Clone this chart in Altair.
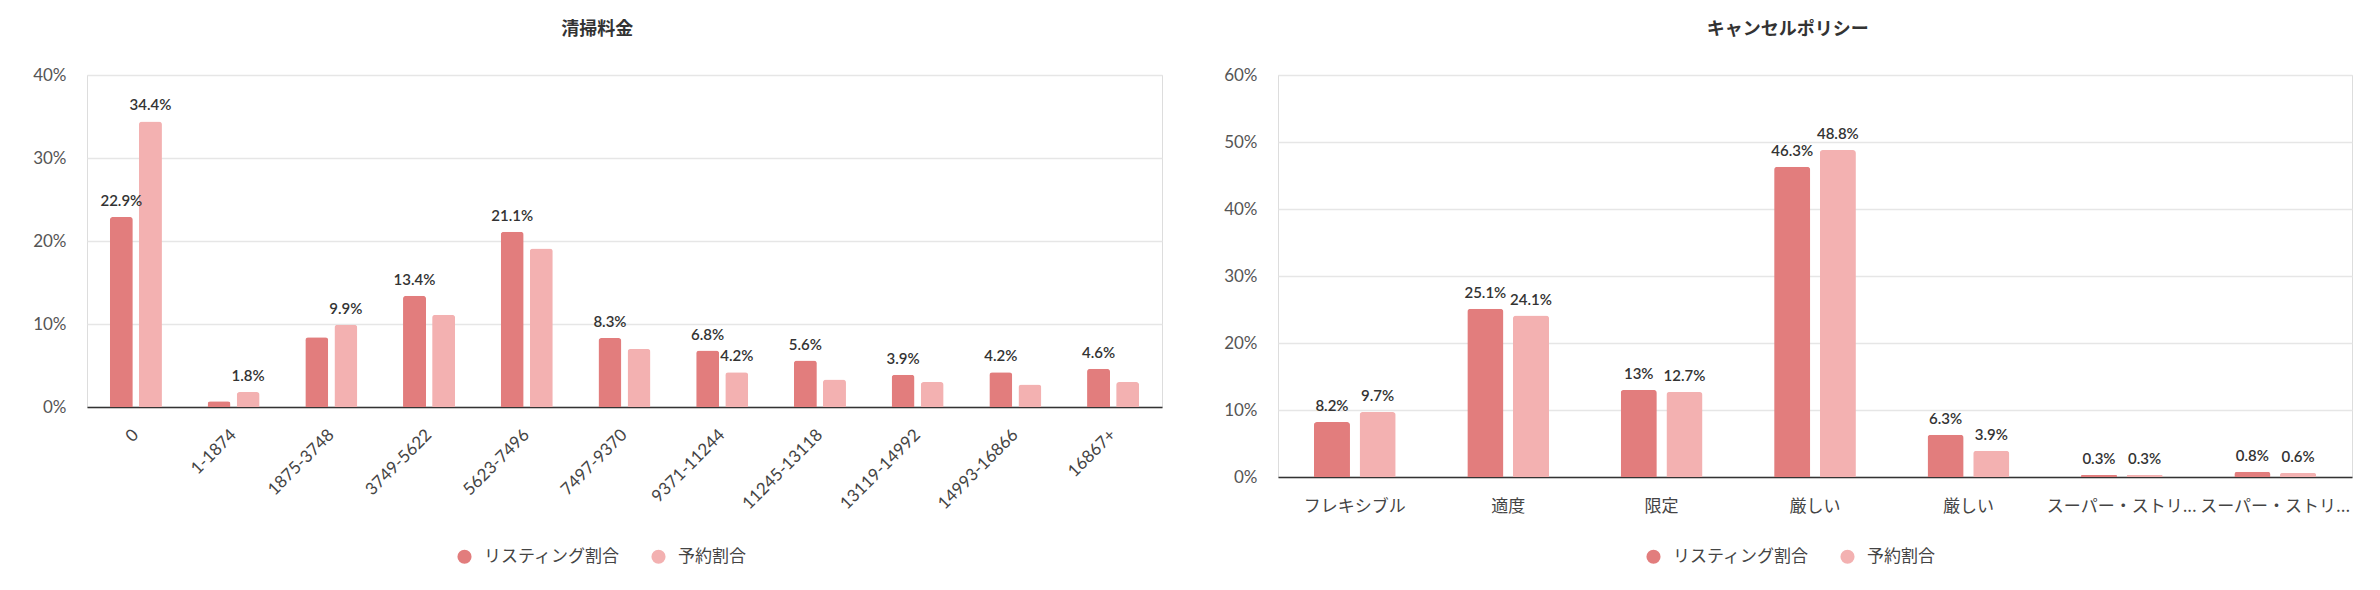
import json
import altair as alt
import pandas as pd

# ---- data ----
series_names = ["リスティング割合", "予約割合"]
series_colors = ["#E27D7D", "#F3B1B1"]

clean_title = "清掃料金"
clean_categories = ["0", "1-1874", "1875-3748", "3749-5622", "5623-7496", "7497-9370",
                    "9371-11244", "11245-13118", "13119-14992", "14993-16866", "16867+"]
clean_listing = [22.9, 0.7, 8.4, 13.4, 21.1, 8.3, 6.8, 5.6, 3.9, 4.2, 4.6]
clean_booking = [34.4, 1.8, 9.9, 11.1, 19.1, 7.0, 4.2, 3.3, 3.0, 2.7, 3.0]
clean_listing_shown = [True, False, False, True, True, True, True, True, True, True, True]
clean_booking_shown = [True, True, True, False, False, False, True, False, False, False, False]
clean_ticks = [0, 10, 20, 30, 40]

policy_title = "キャンセルポリシー"
policy_categories = ["フレキシブル", "適度", "限定", "厳しい", "厳しい",
                     "スーパー・ストリ...", "スーパー・ストリ..."]
policy_listing = [8.2, 25.1, 13.0, 46.3, 6.3, 0.3, 0.8]
policy_booking = [9.7, 24.1, 12.7, 48.8, 3.9, 0.3, 0.6]
policy_listing_shown = [True] * 7
policy_booking_shown = [True] * 7
policy_ticks = [0, 10, 20, 30, 40, 50, 60]

NUM_FONT = "Lato, 'Noto Sans CJK JP', sans-serif"
JP_FONT = "'Noto Sans CJK JP', Lato, sans-serif"


def panel(title, cats, lst, bkg, lst_show, bkg_show, ticks, width, height,
          label_angle, label_padding, legend_x, legend_y):
    rows = []
    for i in range(len(cats)):
        for s, vals, shows in ((0, lst, lst_show), (1, bkg, bkg_show)):
            v = vals[i]
            rows.append({
                "idx": i,
                "series": series_names[s],
                "value": v,
                "label": (f"{v:g}%" if shows[i] else ""),
            })
    df = pd.DataFrame(rows)
    label_js = json.dumps(cats, ensure_ascii=False)

    if label_angle == 0:
        x_axis = alt.Axis(title=None, labelExpr=f"{label_js}[datum.value]", labelAngle=0,
                          labelAlign="center", labelBaseline="top",
                          labelPadding=label_padding, ticks=False, tickSize=0,
                          domain=True, domainColor="#333333", domainWidth=1.5,
                          labelFont=JP_FONT, labelFontSize=17, labelColor="#444444",
                          grid=False)
    else:
        x_axis = alt.Axis(title=None, labelExpr=f"{label_js}[datum.value]", labelAngle=label_angle,
                          labelAlign="right", labelBaseline="middle",
                          labelPadding=label_padding, ticks=False, tickSize=0,
                          domain=True, domainColor="#333333", domainWidth=1.5,
                          labelFont=NUM_FONT, labelFontSize=17, labelColor="#444444",
                          grid=False)

    x = alt.X("idx:O", scale=alt.Scale(paddingInner=0.467, paddingOuter=0.234), axis=x_axis)
    xoff = alt.XOffset("series:N", sort=series_names,
                       scale=alt.Scale(domain=series_names, paddingInner=0.21, paddingOuter=0))
    y = alt.Y("value:Q", scale=alt.Scale(domain=[0, ticks[-1]], nice=False),
              axis=alt.Axis(title=None, values=ticks, labelExpr="datum.value + '%'",
                            domain=False, ticks=False, tickSize=0, grid=True,
                            gridColor="#E6E6E6", gridWidth=1.5, labelPadding=21,
                            labelFont=NUM_FONT, labelFontSize=17, labelColor="#555555"))
    color = alt.Color("series:N", sort=series_names,
                      scale=alt.Scale(domain=series_names, range=series_colors),
                      legend=alt.Legend(title=None, orient="none", legendX=legend_x,
                                        legendY=legend_y, direction="horizontal",
                                        symbolType="circle", symbolSize=200,
                                        symbolStrokeWidth=0, labelFont=JP_FONT,
                                        labelFontSize=17, labelColor="#444444",
                                        labelOffset=11, columnPadding=30, padding=0))

    base = alt.Chart(df)
    bars = base.mark_bar(cornerRadiusTopLeft=3, cornerRadiusTopRight=3).encode(
        x=x, xOffset=xoff, y=y, color=color)
    text = base.mark_text(dy=-11, baseline="alphabetic", align="center", font=NUM_FONT,
                          fontSize=15, fontWeight=600, color="#333333").encode(
        x=x, xOffset=xoff, y=y, text="label:N")
    return alt.layer(bars, text).properties(
        width=width, height=height,
        title=alt.Title(title, font=JP_FONT, fontSize=18, fontWeight="bold",
                        color="#333333", anchor="middle", frame="bounds", offset=27))


left = panel(clean_title, clean_categories, clean_listing, clean_booking,
             clean_listing_shown, clean_booking_shown, clean_ticks, 1075, 332,
             315, 25, 369, 473)
right = panel(policy_title, policy_categories, policy_listing, policy_booking,
              policy_listing_shown, policy_booking_shown, policy_ticks, 1074, 402,
              0, 21, 367, 473)

chart = alt.hconcat(left, right, spacing=60).resolve_scale(
    color="independent", x="independent", y="independent", xOffset="independent"
).properties(
    padding={"left": 24, "top": 12, "right": 0, "bottom": 0}
).configure_view(stroke=None).configure(background="white")

chart.save("out.html", embed_options={"renderer": "svg", "actions": False})
